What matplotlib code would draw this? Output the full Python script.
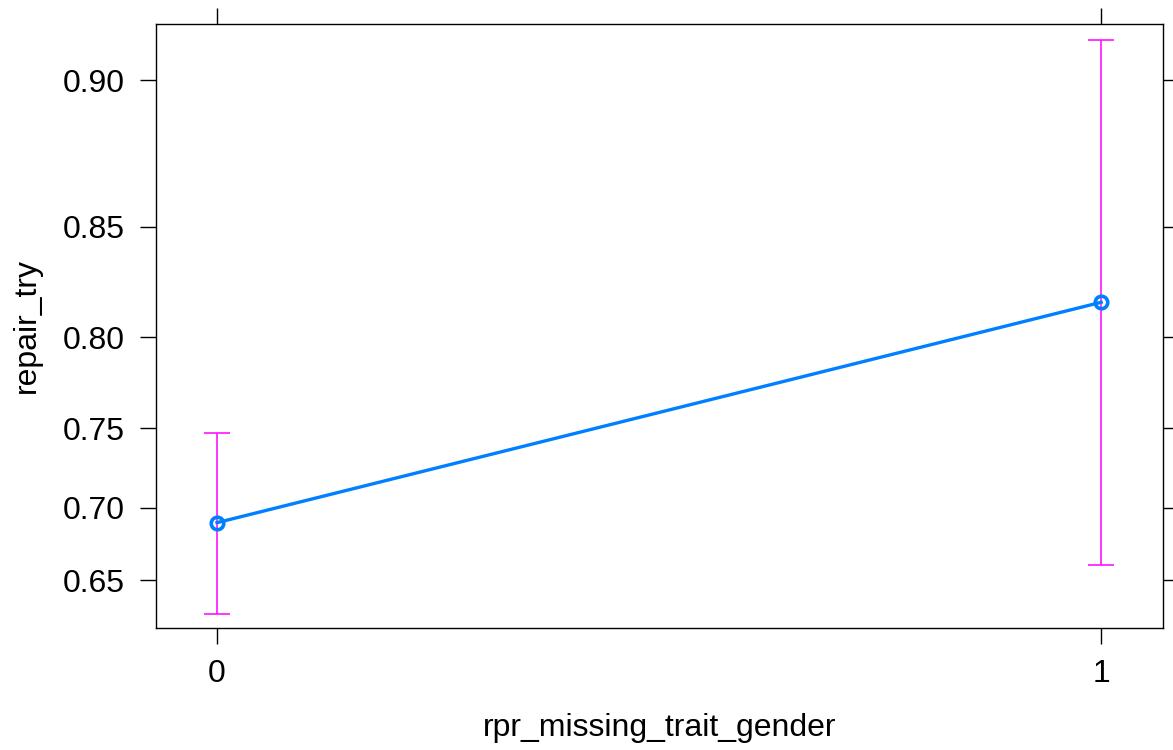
import matplotlib
matplotlib.use("Agg")
import matplotlib.pyplot as plt
from matplotlib.ticker import FixedLocator, NullLocator, FixedFormatter

plt.rcParams['font.family'] = ['Liberation Sans', 'DejaVu Sans']

# effect estimates with 95% intervals (probability scale)
levels = [0, 1]
level_labels = ['0', '1']
fit = [0.690, 0.817]
lower = [0.625, 0.661]
upper = [0.747, 0.911]
yticks = [0.65, 0.70, 0.75, 0.80, 0.85, 0.90]
ytick_labels = ['0.65', '0.70', '0.75', '0.80', '0.85', '0.90']


def effect_plot():
    fig = plt.figure(figsize=(11.73, 7.5), dpi=100)
    ax = fig.add_axes([0.133, 0.1627, 0.8585, 0.8053])

    yerr = [[f - l for f, l in zip(fit, lower)], [u - f for f, u in zip(fit, upper)]]
    ax.errorbar(levels, fit, yerr=yerr, fmt='none', ecolor='#ff00ff',
                elinewidth=1.1, capsize=9.7, capthick=1.1, zorder=2)
    ax.plot(levels, fit, color='#0080ff', linewidth=2.4, marker='o',
            markersize=9, markerfacecolor='none', markeredgewidth=2.6,
            markeredgecolor='#0080ff', zorder=3)

    ax.set_yscale('logit')
    ax.set_ylim(0.6148, 0.9149)
    ax.set_xlim(-0.069, 1.070)
    ax.yaxis.set_major_locator(FixedLocator(yticks))
    ax.yaxis.set_major_formatter(FixedFormatter(ytick_labels))
    ax.yaxis.set_minor_locator(NullLocator())
    ax.set_xticks(levels)
    ax.set_xticklabels(level_labels)

    for s in ax.spines.values():
        s.set_linewidth(1.0)
    ax.tick_params(axis='both', direction='out', length=11.5, width=1.0,
                   labelsize=23, pad=11, top=True, right=True,
                   labeltop=False, labelright=False)

    ax.set_xlabel('rpr_missing_trait_gender', fontsize=23, labelpad=17)
    ax.set_ylabel('repair_try', fontsize=23, labelpad=15)

    fig.savefig('out.png', dpi=100)


if __name__ == "__main__":
    effect_plot()
